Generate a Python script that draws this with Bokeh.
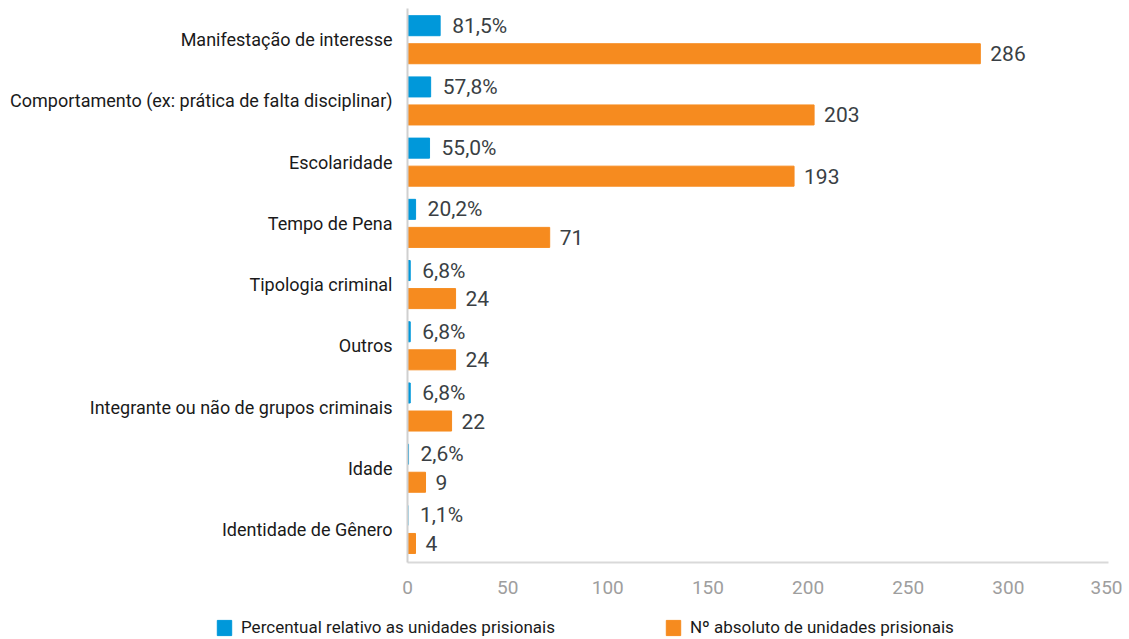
from bokeh.plotting import figure
from bokeh.models import ColumnDataSource, Range1d, FixedTicker, Legend, LegendItem, LabelSet
from bokeh.core.properties import value
from bokeh.embed import file_html
from bokeh.resources import INLINE

categories = [
    "Manifestação de interesse",
    "Comportamento (ex: prática de falta disciplinar)",
    "Escolaridade",
    "Tempo de Pena",
    "Tipologia criminal",
    "Outros",
    "Integrante ou não de grupos criminais",
    "Idade",
    "Identidade de Gênero",
]
percentual = [81.5, 57.8, 55.0, 20.2, 6.8, 6.8, 6.8, 2.6, 1.1]
absoluto = [286, 203, 193, 71, 24, 24, 22, 9, 4]
pct_labels = ["81,5%", "57,8%", "55,0%", "20,2%", "6,8%", "6,8%", "6,8%", "2,6%", "1,1%"]
abs_labels = [str(v) for v in absoluto]
x_ticks = [0, 50, 100, 150, 200, 250, 300, 350]
legend_labels = ["Percentual relativo as unidades prisionais", "Nº absoluto de unidades prisionais"]

BLUE = "#0098DA"
ORANGE = "#F68B1F"
PCT_SCALE = 0.2  # percent series drawn at 1/5 of the count scale
OFF = 0.229
H = 0.327

n = len(categories)
ypos = [n - 1 - i for i in range(n)]

src = ColumnDataSource(dict(
    y=ypos,
    yb=[y + OFF for y in ypos],
    yo=[y - OFF for y in ypos],
    pct=[v * PCT_SCALE for v in percentual],
    absv=absoluto,
    pl=pct_labels,
    al=abs_labels,
))

p = figure(frame_width=701, frame_height=554, output_backend="svg", toolbar_location=None,
           x_range=Range1d(0, 350), y_range=Range1d(-0.54, n - 1 + 0.51),
           min_border_left=407, min_border_top=8, min_border_right=14, min_border_bottom=54)

p.hbar(y="yb", right="pct", left=0, height=H, source=src, color=BLUE)
p.hbar(y="yo", right="absv", left=0, height=H, source=src, color=ORANGE)

p.add_layout(LabelSet(x="pct", y="yb", text="pl", source=src, x_offset=12, y_offset=0,
                      text_baseline="middle", text_font=value("Roboto"), text_font_size="21px",
                      text_color="#3a3f44"))
p.add_layout(LabelSet(x="absv", y="yo", text="al", source=src, x_offset=10, y_offset=0,
                      text_baseline="middle", text_font=value("Roboto"), text_font_size="21px",
                      text_color="#3a3f44"))

p.grid.visible = False
p.outline_line_color = None

p.xaxis.ticker = FixedTicker(ticks=x_ticks)
p.xaxis.major_tick_line_color = None
p.xaxis.minor_tick_line_color = None
p.xaxis.axis_line_color = "#d9d9d9"
p.xaxis.axis_line_width = 2
p.xaxis.major_label_text_color = "#9e9e9e"
p.xaxis.major_label_text_font = "Roboto"
p.xaxis.major_label_text_font_size = "19px"
p.xaxis.major_label_standoff = 12

p.yaxis.ticker = FixedTicker(ticks=ypos)
p.yaxis.major_label_overrides = {y: c for y, c in zip(ypos, categories)}
p.yaxis.major_tick_line_color = None
p.yaxis.minor_tick_line_color = None
p.yaxis.axis_line_color = "#d0d0d0"
p.yaxis.axis_line_width = 2
p.yaxis.major_label_text_color = "#1a1a1a"
p.yaxis.major_label_text_font = "Roboto"
p.yaxis.major_label_text_font_size = "18px"
p.yaxis.major_label_standoff = 9

# legend strip below the chart (separate root, so its frame spans the full width)
W = 701 + 407 + 14
p2 = figure(width=W, height=23, output_backend="svg", toolbar_location=None,
            x_range=Range1d(0, W), y_range=Range1d(0, 23),
            min_border=0, x_axis_type=None, y_axis_type=None)
p2.grid.visible = False
p2.outline_line_color = None
# legend-key renderers: one hidden swatch each, kept outside the visible y range
lb = p2.hbar(y=[-50], right=[1], left=[0], height=1, color=BLUE)
lo = p2.hbar(y=[-50], right=[1], left=[0], height=1, color=ORANGE)
legend = Legend(items=[
    LegendItem(label=legend_labels[0], renderers=[lb]),
    LegendItem(label=legend_labels[1], renderers=[lo]),
], orientation="horizontal", location=(215, 2), spacing=109,
    glyph_width=18, glyph_height=19, label_standoff=8,
    label_text_font="Roboto", label_text_font_size="17px", label_text_color="#1a1a1a",
    border_line_color=None, background_fill_alpha=0, padding=0, margin=0)
p2.add_layout(legend, "center")

open("out.html", "w").write(file_html([p, p2], INLINE))
